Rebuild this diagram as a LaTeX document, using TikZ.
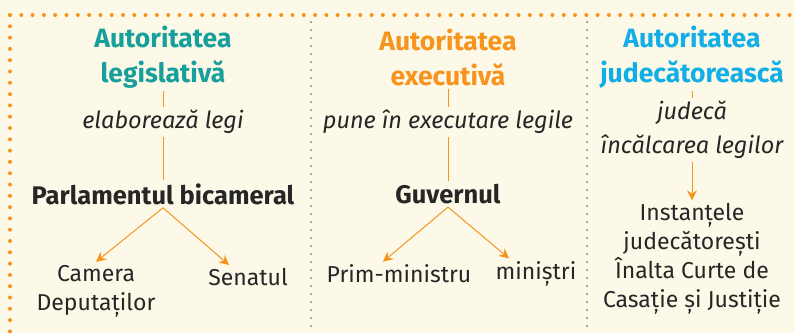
\documentclass[tikz,border=0pt]{standalone}
\usepackage{fontspec}
\setmainfont{Fira Sans}
\usetikzlibrary{arrows.meta}
\definecolor{cream}{HTML}{FDF9E8}
\definecolor{legteal}{HTML}{17A09B}
\definecolor{exeorange}{HTML}{F7941D}
\definecolor{judblue}{HTML}{12AEE6}
\definecolor{dotgray}{HTML}{9A9A9A}

\begin{document}
\begin{tikzpicture}[x=1pt,y=-1pt,
	every node/.style={inner sep=3pt,align=center,text=black!85},
	title/.style={font=\fontsize{26.5}{35}\selectfont\bfseries},
	verb/.style={font=\fontsize{23.5}{34}\selectfont\itshape},
	body/.style={font=\fontsize{25.5}{29}\selectfont\bfseries},
	leaf/.style={font=\fontsize{23}{29}\selectfont},
	link/.style={exeorange,line width=1pt},
	arr/.style={exeorange,line width=1pt,-{Stealth[length=10pt,width=10pt,inset=3.5pt]}}]

			% Background and frame
			\fill[cream] (0,0) rectangle (795,333);
			\useasboundingbox (0,0) rectangle (795,333);
			\draw[exeorange,line width=4pt,line cap=round,dash pattern=on 0pt off 11.3pt] (10,15) -- (795,15);
			\draw[exeorange,line width=4pt,line cap=round,dash pattern=on 0pt off 11.3pt] (10,15) -- (10,333);
			\draw[dotgray,line width=2.5pt,line cap=round,dash pattern=on 0pt off 8pt] (311,22) -- (311,333);
			\draw[dotgray,line width=2.5pt,line cap=round,dash pattern=on 0pt off 8pt] (587,22) -- (587,333);

			% Legislative
			\node[title,text=legteal] (legT) at (163,57) {Autoritatea\\legislativă};
			\node[verb] (legV) at (163,122) {elaborează legi};
			\node[body] (parl) at (163,194) {Parlamentul bicameral};
			\node[leaf] (cam) at (96,291) {Camera\\Deputaților};
			\node[leaf] (sen) at (248,277) {Senatul};

			% Executive
			\node[title,text=exeorange] (exeT) at (448,57) {Autoritatea\\executivă};
			\node[verb] (exeV) at (448,122) {pune în executare legile};
			\node[body] (guv) at (448,194) {Guvernul};
			\node[leaf] (prim) at (399,274) {Prim-ministru};
			\node[leaf] (min) at (536,274) {miniștri};

			% Judicial
			\node[title,text=judblue] (judT) at (692,57) {Autoritatea\\judecătorească};
			\node[verb] (judV) at (692,130) {judecă\\încălcarea legilor};
			\node[leaf] (inst) at (692,259) {Instanțele\\judecătorești\\Înalta Curte de\\Casație și Justiție};

			% Links
			\draw[link] (legT) -- (legV);
			\draw[link] (legV) -- (parl);
			\draw[arr] (parl.south) -- (cam.north);
			\draw[arr] (parl.south) -- ([xshift=-19pt]sen.north);
			\draw[link] (exeT) -- (exeV);
			\draw[link] (exeV) -- (guv);
			\draw[arr] (guv.south) -- ([xshift=-16pt]prim.north);
			\draw[arr] (guv.south) -- ([xshift=-27pt]min.north);
			\draw[link] (judT) -- (judV);
			\draw[arr] (judV) -- (inst);

		\end{tikzpicture}
\end{document}
